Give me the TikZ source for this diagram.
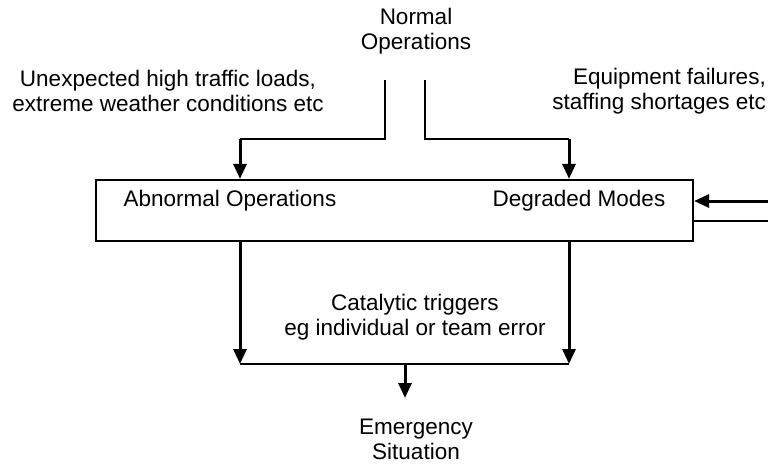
\documentclass[tikz,border=0pt]{standalone}
\usepackage{fontspec}
\setmainfont{Liberation Sans}
\usetikzlibrary{arrows.meta}
\begin{document}
\begin{tikzpicture}
[
    x=1pt, y=-1pt,
    txt/.style={align=center, inner sep=0pt, font=\fontsize{22.5}{25}\selectfont},
    thin line/.style={line width=1.8pt},
    heavy/.style={line width=3pt, -{Triangle[width=13pt,length=15pt]}},
]
\useasboundingbox (0,0) rectangle (768,464);
% main box and its labels
\node[draw, line width=2.2pt, minimum width=597pt, minimum height=61pt, inner sep=0pt] (box) at (394.5,210.5) {};
\node[txt] (abnormal) at (230,201) {Abnormal Operations};
\node[txt] (degraded) at (579,201) {Degraded Modes};
% texts
\node[txt] (normal) at (416,31) {Normal\\Operations};
\node[txt] (unexp) at (168,91) {Unexpected high traffic loads,\\extreme weather conditions etc};
\node[txt, anchor=east, align=right] (equip) at (766,91) {Equipment failures,\\staffing shortages etc};
\node[txt] (catalytic) at (415,317) {Catalytic triggers\\eg individual or team error};
\node[txt] (emergency) at (416,439) {Emergency\\Situation};
% top connectors
\coordinate (nl) at (385,80);
\coordinate (nr) at (425,80);
\coordinate (al) at (240,139);
\coordinate (ar) at (569,139);
\draw[thin line] (nl) |- (al);
\draw[thin line] (nr) |- (ar);
\draw[heavy] (al) -- (box.north -| al);
\draw[heavy] (ar) -- (box.north -| ar);
% right side
\coordinate (rin) at (768,201);
\coordinate (rout) at (768,221);
\draw[heavy] (rin) -- (box.east |- rin);
\draw[thin line] (box.east |- rout) -- (rout);
% bottom connectors
\coordinate (bl) at (240,364);
\coordinate (br) at (569,364);
\coordinate (bm) at (405,364);
\coordinate (em) at (405,398);
\draw[heavy] (box.south -| bl) -- (bl);
\draw[heavy] (box.south -| br) -- (br);
\draw[line width=2.2pt] (bl) -- (br);
\draw[heavy] (bm) -- (em);
\end{tikzpicture}
\end{document}
